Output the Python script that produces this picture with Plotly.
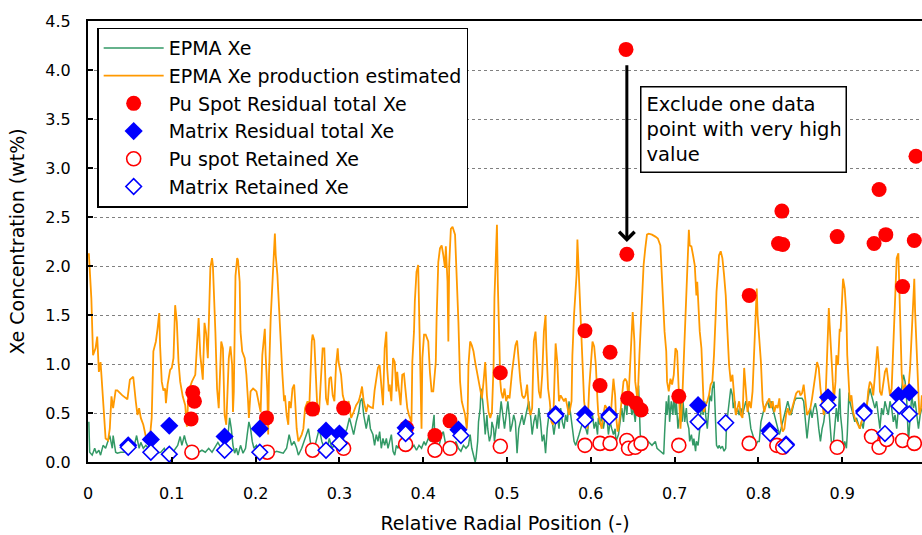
import plotly.graph_objects as go

# EPMA line scan: Xe measured (green) and Xe production estimate (orange)
prod_x = [0.001, 0.004, 0.006, 0.009, 0.011, 0.013, 0.015, 0.017, 0.019, 0.021, 0.024, 0.026, 0.028, 0.030,
          0.033, 0.035, 0.041, 0.047, 0.050, 0.054, 0.057, 0.059, 0.061, 0.063, 0.066, 0.069, 0.073, 0.076,
          0.078, 0.081, 0.083, 0.085, 0.086, 0.088, 0.090, 0.092, 0.093, 0.095, 0.098, 0.100, 0.102, 0.104,
          0.106, 0.108, 0.110, 0.113, 0.116, 0.118, 0.120, 0.124, 0.128, 0.130, 0.132, 0.134, 0.137, 0.139,
          0.141, 0.143, 0.146, 0.148, 0.149, 0.152, 0.154, 0.156, 0.159, 0.161, 0.163, 0.165, 0.168, 0.170,
          0.172, 0.173, 0.174, 0.176, 0.178, 0.179, 0.181, 0.182, 0.184, 0.187, 0.189, 0.191, 0.192, 0.194,
          0.197, 0.201, 0.204, 0.206, 0.208, 0.210, 0.211, 0.212, 0.214, 0.215, 0.216, 0.218, 0.220, 0.222,
          0.223, 0.224, 0.226, 0.228, 0.230, 0.232, 0.234, 0.235, 0.237, 0.239, 0.240, 0.242, 0.244, 0.246,
          0.247, 0.249, 0.251, 0.253, 0.255, 0.257, 0.259, 0.262, 0.264, 0.267, 0.268, 0.270, 0.272, 0.274,
          0.276, 0.278, 0.280, 0.282, 0.284, 0.286, 0.288, 0.290, 0.292, 0.294, 0.296, 0.298, 0.299, 0.302,
          0.304, 0.306, 0.308, 0.311, 0.314, 0.317, 0.320, 0.323, 0.325, 0.327, 0.329, 0.332, 0.334, 0.337,
          0.340, 0.342, 0.344, 0.346, 0.348, 0.350, 0.352, 0.354, 0.356, 0.357, 0.359, 0.360, 0.362, 0.364,
          0.366, 0.368, 0.369, 0.370, 0.372, 0.373, 0.375, 0.377, 0.379, 0.381, 0.383, 0.386, 0.387, 0.389,
          0.390, 0.392, 0.394, 0.395, 0.397, 0.398, 0.399, 0.401, 0.403, 0.406, 0.408, 0.410, 0.412, 0.415,
          0.416, 0.418, 0.420, 0.422, 0.424, 0.426, 0.427, 0.429, 0.430, 0.431, 0.433, 0.435, 0.438, 0.439,
          0.441, 0.442, 0.444, 0.446, 0.448, 0.450, 0.452, 0.453, 0.454, 0.456, 0.458, 0.460, 0.462, 0.464,
          0.466, 0.468, 0.470, 0.472, 0.474, 0.476, 0.478, 0.480, 0.482, 0.484, 0.485, 0.487, 0.488, 0.489,
          0.491, 0.492, 0.493, 0.495, 0.497, 0.499, 0.501, 0.503, 0.506, 0.508, 0.510, 0.512, 0.514, 0.516,
          0.518, 0.520, 0.522, 0.524, 0.526, 0.528, 0.530, 0.532, 0.534, 0.536, 0.538, 0.540, 0.542, 0.544,
          0.546, 0.547, 0.549, 0.551, 0.553, 0.555, 0.557, 0.558, 0.560, 0.562, 0.564, 0.566, 0.568, 0.570,
          0.572, 0.574, 0.577, 0.578, 0.580, 0.582, 0.583, 0.584, 0.586, 0.588, 0.590, 0.592, 0.594, 0.596,
          0.598, 0.600, 0.602, 0.604, 0.606, 0.608, 0.609, 0.611, 0.613, 0.615, 0.617, 0.619, 0.621, 0.623,
          0.625, 0.627, 0.629, 0.630, 0.632, 0.633, 0.635, 0.637, 0.639, 0.641, 0.643, 0.645, 0.647, 0.649,
          0.650, 0.652, 0.653, 0.655, 0.656, 0.658, 0.660, 0.661, 0.663, 0.665, 0.667, 0.669, 0.673, 0.677,
          0.680, 0.683, 0.684, 0.686, 0.688, 0.690, 0.691, 0.693, 0.695, 0.697, 0.699, 0.701, 0.703, 0.705,
          0.707, 0.709, 0.711, 0.713, 0.715, 0.717, 0.718, 0.720, 0.722, 0.724, 0.726, 0.727, 0.729, 0.730,
          0.732, 0.734, 0.735, 0.737, 0.739, 0.741, 0.743, 0.745, 0.747, 0.749, 0.750, 0.752, 0.753, 0.755,
          0.757, 0.759, 0.761, 0.763, 0.765, 0.767, 0.769, 0.771, 0.773, 0.775, 0.777, 0.779, 0.781, 0.783,
          0.785, 0.787, 0.789, 0.791, 0.793, 0.795, 0.796, 0.798, 0.799, 0.801, 0.803, 0.805, 0.807, 0.809,
          0.811, 0.813, 0.815, 0.817, 0.819, 0.821, 0.823, 0.825, 0.827, 0.829, 0.831, 0.833, 0.835, 0.837,
          0.839, 0.841, 0.843, 0.845, 0.847, 0.849, 0.850, 0.852, 0.854, 0.856, 0.858, 0.860, 0.862, 0.864,
          0.866, 0.868, 0.870, 0.872, 0.874, 0.876, 0.878, 0.880, 0.882, 0.883, 0.884, 0.885, 0.887, 0.889,
          0.890, 0.892, 0.893, 0.895, 0.897, 0.898, 0.900, 0.901, 0.903, 0.905, 0.906, 0.908, 0.909, 0.911,
          0.913, 0.915, 0.917, 0.919, 0.921, 0.923, 0.925, 0.927, 0.929, 0.931, 0.933, 0.935, 0.937, 0.939,
          0.941, 0.942, 0.944, 0.945, 0.947, 0.949, 0.951, 0.953, 0.955, 0.957, 0.959, 0.961, 0.963, 0.965,
          0.967, 0.968, 0.970, 0.971, 0.973, 0.975, 0.977, 0.979, 0.981, 0.983, 0.985, 0.986, 0.987, 0.989,
          0.991, 0.992, 0.994, 0.995]
prod_y = [2.13, 1.67, 1.09, 1.16, 1.28, 0.92, 1.02, 0.75, 0.48, 0.24, 0.22, 0.34, 0.67, 0.55,
          0.73, 0.73, 0.68, 0.64, 0.84, 0.87, 0.62, 0.48, 0.55, 0.45, 0.38, 0.26, 0.17, 0.45,
          1.13, 1.23, 1.36, 1.52, 1.19, 0.82, 0.73, 0.75, 0.60, 0.79, 0.94, 0.96, 1.06, 1.60,
          1.43, 1.02, 0.82, 0.67, 0.58, 0.36, 0.72, 0.82, 0.89, 1.23, 1.47, 1.09, 0.84, 1.42,
          1.31, 1.06, 1.98, 2.08, 2.01, 1.33, 0.75, 0.55, 1.23, 1.16, 0.48, 0.38, 1.06, 1.18,
          0.99, 0.51, 0.72, 1.90, 2.08, 2.06, 1.84, 1.33, 1.13, 1.06, 0.89, 0.62, 0.45, 0.72,
          0.75, 0.72, 0.58, 0.51, 1.09, 1.26, 1.36, 1.09, 0.72, 0.28, 0.89, 1.47, 1.84, 2.11,
          2.33, 2.11, 1.91, 1.57, 1.16, 0.89, 0.62, 0.68, 0.48, 0.38, 0.62, 0.55, 0.75, 0.79,
          0.65, 0.34, 0.21, 0.24, 0.28, 0.34, 0.55, 0.62, 0.55, 1.23, 1.30, 1.24, 0.92, 0.48,
          0.55, 0.92, 1.16, 1.16, 0.65, 0.58, 0.85, 0.87, 0.68, 0.62, 0.99, 1.16, 1.02, 0.89,
          0.68, 0.62, 0.58, 0.62, 0.45, 0.51, 0.58, 0.62, 0.68, 0.77, 0.62, 0.51, 0.58, 0.56,
          0.55, 0.73, 0.85, 0.96, 0.99, 0.75, 0.58, 1.16, 1.33, 0.96, 0.72, 0.79, 0.62, 1.06,
          1.02, 0.72, 0.92, 0.82, 0.62, 0.58, 0.89, 0.90, 0.72, 0.55, 0.48, 0.41, 1.02, 1.33,
          1.64, 1.94, 2.01, 1.50, 0.72, 0.34, 1.06, 1.30, 1.30, 1.23, 0.92, 0.72, 0.72, 1.02,
          1.47, 2.04, 2.18, 2.21, 2.11, 1.98, 2.20, 1.84, 1.23, 2.01, 2.38, 2.40, 2.32, 2.11,
          1.74, 1.43, 0.82, 0.62, 0.55, 0.48, 0.34, 0.48, 0.99, 1.23, 1.19, 1.13, 1.02, 0.92,
          0.85, 0.75, 0.65, 0.82, 1.02, 0.68, 0.51, 0.45, 0.51, 0.99, 1.67, 2.18, 2.42, 1.84,
          1.09, 0.82, 0.72, 0.65, 0.75, 0.62, 0.68, 0.65, 0.92, 1.09, 1.19, 1.24, 0.99, 0.82,
          0.68, 0.65, 0.68, 0.79, 0.55, 0.48, 0.55, 1.23, 1.33, 1.06, 0.72, 0.65, 0.89, 1.33,
          1.50, 1.16, 0.75, 0.62, 0.41, 0.38, 0.82, 1.21, 1.02, 0.62, 0.68, 0.65, 0.62, 0.65,
          0.55, 0.48, 0.62, 1.09, 1.50, 1.77, 1.91, 2.27, 1.84, 1.33, 0.92, 0.62, 0.48, 0.34,
          0.75, 1.02, 1.23, 1.18, 0.99, 0.62, 0.48, 0.41, 0.34, 0.48, 0.58, 0.55, 0.48, 0.38,
          0.62, 0.85, 0.68, 0.48, 0.31, 0.34, 0.48, 0.62, 0.82, 0.85, 0.82, 0.65, 1.02, 1.50,
          1.53, 1.23, 0.82, 0.68, 0.65, 1.09, 1.50, 1.67, 2.01, 2.18, 2.32, 2.33, 2.32, 2.30,
          2.28, 2.21, 2.01, 1.67, 1.33, 1.13, 0.82, 0.72, 0.85, 0.79, 0.89, 1.16, 1.13, 0.72,
          0.34, 0.62, 1.09, 1.53, 2.01, 2.37, 2.21, 2.20, 2.11, 2.01, 1.70, 1.84, 1.50, 1.33,
          1.16, 0.65, 0.51, 0.58, 0.62, 0.68, 0.79, 0.82, 1.09, 1.50, 1.74, 1.98, 2.11, 2.15,
          2.08, 1.91, 1.70, 1.33, 0.99, 0.82, 0.89, 0.68, 0.48, 0.55, 0.62, 0.48, 0.45, 0.96,
          0.75, 0.51, 0.62, 0.55, 0.72, 1.16, 1.50, 1.77, 1.50, 1.30, 1.02, 0.62, 0.51, 0.58,
          0.62, 0.65, 0.55, 0.62, 0.51, 0.58, 0.55, 0.65, 0.41, 0.31, 0.34, 0.48, 0.55, 0.48,
          0.51, 0.58, 0.65, 0.70, 0.72, 0.72, 0.68, 0.70, 0.79, 0.62, 0.48, 0.51, 0.55, 0.65,
          0.75, 0.89, 1.02, 0.96, 0.75, 0.58, 0.48, 0.62, 1.16, 1.50, 1.57, 1.40, 1.09, 0.75,
          0.62, 0.82, 1.09, 0.99, 1.36, 1.33, 1.70, 1.87, 1.77, 1.50, 1.09, 0.79, 0.62, 0.68,
          0.51, 0.45, 0.41, 0.38, 0.34, 0.41, 0.45, 0.48, 0.51, 0.72, 0.82, 0.79, 0.68, 0.89,
          1.02, 1.18, 0.96, 0.72, 0.68, 0.82, 0.92, 0.96, 0.79, 0.68, 0.75, 1.16, 1.67, 2.08,
          2.13, 1.84, 1.33, 0.89, 0.72, 0.79, 0.75, 0.75, 0.96, 1.36, 1.70, 1.87, 1.53, 1.09,
          0.62, 0.48, 0.55, 0.68]

epma_x = [0.001, 0.002, 0.005, 0.008, 0.010, 0.013, 0.015, 0.018, 0.021, 0.023, 0.026, 0.029, 0.030, 0.033,
          0.035, 0.039, 0.043, 0.047, 0.051, 0.055, 0.058, 0.061, 0.063, 0.066, 0.069, 0.072, 0.075, 0.079,
          0.083, 0.087, 0.091, 0.095, 0.099, 0.103, 0.107, 0.110, 0.112, 0.115, 0.117, 0.120, 0.124, 0.128,
          0.132, 0.136, 0.140, 0.144, 0.148, 0.152, 0.155, 0.159, 0.163, 0.167, 0.169, 0.171, 0.173, 0.175,
          0.177, 0.179, 0.182, 0.185, 0.188, 0.190, 0.192, 0.194, 0.196, 0.198, 0.201, 0.204, 0.207, 0.211,
          0.214, 0.217, 0.221, 0.225, 0.229, 0.233, 0.237, 0.240, 0.243, 0.246, 0.249, 0.251, 0.255, 0.258,
          0.261, 0.263, 0.266, 0.268, 0.271, 0.274, 0.276, 0.279, 0.282, 0.286, 0.288, 0.291, 0.294, 0.298,
          0.300, 0.303, 0.306, 0.309, 0.312, 0.314, 0.317, 0.320, 0.323, 0.325, 0.327, 0.329, 0.332, 0.335,
          0.337, 0.340, 0.342, 0.344, 0.346, 0.348, 0.350, 0.352, 0.354, 0.356, 0.358, 0.360, 0.362, 0.364,
          0.366, 0.368, 0.370, 0.372, 0.374, 0.376, 0.378, 0.380, 0.383, 0.386, 0.389, 0.392, 0.395, 0.398,
          0.401, 0.403, 0.406, 0.409, 0.411, 0.413, 0.414, 0.416, 0.419, 0.422, 0.424, 0.427, 0.430, 0.433,
          0.436, 0.439, 0.442, 0.445, 0.448, 0.451, 0.454, 0.456, 0.458, 0.460, 0.462, 0.463, 0.465, 0.466,
          0.468, 0.469, 0.471, 0.473, 0.474, 0.476, 0.477, 0.479, 0.481, 0.482, 0.484, 0.485, 0.487, 0.489,
          0.490, 0.492, 0.493, 0.495, 0.497, 0.498, 0.500, 0.501, 0.503, 0.504, 0.506, 0.508, 0.510, 0.512,
          0.514, 0.516, 0.518, 0.520, 0.522, 0.524, 0.526, 0.528, 0.530, 0.532, 0.534, 0.536, 0.538, 0.540,
          0.542, 0.544, 0.546, 0.548, 0.550, 0.552, 0.554, 0.556, 0.558, 0.560, 0.562, 0.564, 0.566, 0.568,
          0.570, 0.572, 0.574, 0.576, 0.578, 0.580, 0.582, 0.584, 0.586, 0.588, 0.590, 0.592, 0.594, 0.596,
          0.598, 0.600, 0.602, 0.604, 0.606, 0.608, 0.609, 0.611, 0.613, 0.615, 0.617, 0.619, 0.621, 0.623,
          0.625, 0.627, 0.629, 0.630, 0.633, 0.635, 0.637, 0.639, 0.641, 0.643, 0.645, 0.647, 0.649, 0.651,
          0.653, 0.655, 0.657, 0.659, 0.661, 0.665, 0.669, 0.673, 0.677, 0.679, 0.683, 0.687, 0.688, 0.690,
          0.691, 0.693, 0.694, 0.696, 0.698, 0.699, 0.701, 0.702, 0.704, 0.706, 0.707, 0.709, 0.710, 0.712,
          0.714, 0.715, 0.717, 0.718, 0.720, 0.722, 0.723, 0.725, 0.726, 0.728, 0.730, 0.731, 0.733, 0.734,
          0.736, 0.737, 0.739, 0.741, 0.742, 0.744, 0.745, 0.747, 0.749, 0.750, 0.752, 0.753, 0.755, 0.757,
          0.759, 0.761, 0.762, 0.764, 0.765, 0.767, 0.769, 0.770, 0.772, 0.773, 0.775, 0.777, 0.779, 0.781,
          0.783, 0.785, 0.787, 0.789, 0.791, 0.793, 0.795, 0.797, 0.799, 0.801, 0.803, 0.805, 0.807, 0.809,
          0.811, 0.813, 0.815, 0.817, 0.819, 0.821, 0.823, 0.825, 0.827, 0.829, 0.831, 0.833, 0.835, 0.837,
          0.839, 0.841, 0.843, 0.845, 0.847, 0.849, 0.852, 0.854, 0.856, 0.858, 0.860, 0.862, 0.864, 0.866,
          0.868, 0.870, 0.872, 0.874, 0.876, 0.878, 0.880, 0.882, 0.884, 0.885, 0.887, 0.889, 0.891, 0.893,
          0.895, 0.897, 0.898, 0.900, 0.901, 0.903, 0.905, 0.906, 0.908, 0.909, 0.911, 0.913, 0.915, 0.917,
          0.919, 0.921, 0.923, 0.925, 0.927, 0.929, 0.931, 0.933, 0.935, 0.937, 0.939, 0.941, 0.943, 0.945,
          0.947, 0.949, 0.951, 0.953, 0.955, 0.957, 0.959, 0.961, 0.963, 0.965, 0.967, 0.969, 0.971, 0.973,
          0.975, 0.977, 0.979, 0.981, 0.983, 0.985, 0.987, 0.989, 0.991, 0.993, 0.995]
epma_y = [0.41, 0.10, 0.07, 0.14, 0.09, 0.12, 0.07, 0.17, 0.14, 0.20, 0.27, 0.14, 0.27, 0.10,
          0.09, 0.10, 0.10, 0.14, 0.10, 0.16, 0.27, 0.14, 0.20, 0.14, 0.17, 0.14, 0.10, 0.12,
          0.09, 0.10, 0.14, 0.07, 0.10, 0.12, 0.17, 0.26, 0.17, 0.27, 0.20, 0.14, 0.10, 0.09,
          0.10, 0.12, 0.10, 0.14, 0.10, 0.16, 0.20, 0.14, 0.19, 0.27, 0.45, 0.34, 0.17, 0.09,
          0.14, 0.07, 0.17, 0.09, 0.14, 0.28, 0.41, 0.34, 0.21, 0.14, 0.17, 0.11, 0.12, 0.14,
          0.11, 0.12, 0.09, 0.11, 0.10, 0.09, 0.14, 0.28, 0.17, 0.21, 0.14, 0.07, 0.14, 0.21,
          0.28, 0.34, 0.17, 0.11, 0.17, 0.28, 0.34, 0.21, 0.14, 0.17, 0.24, 0.14, 0.17, 0.21,
          0.14, 0.17, 0.28, 0.34, 0.45, 0.38, 0.28, 0.41, 0.51, 0.62, 0.65, 0.48, 0.34, 0.48,
          0.34, 0.28, 0.17, 0.28, 0.21, 0.31, 0.14, 0.24, 0.17, 0.24, 0.14, 0.21, 0.28, 0.11,
          0.07, 0.17, 0.14, 0.21, 0.14, 0.24, 0.14, 0.31, 0.28, 0.14, 0.17, 0.12, 0.17, 0.14,
          0.21, 0.17, 0.24, 0.21, 0.34, 0.48, 0.17, 0.14, 0.17, 0.28, 0.31, 0.17, 0.14, 0.21,
          0.14, 0.21, 0.14, 0.11, 0.17, 0.14, 0.17, 0.28, 0.14, 0.07, 0.00, 0.04, 0.21, 0.41,
          0.55, 0.75, 0.62, 0.41, 0.28, 0.48, 0.34, 0.21, 0.28, 0.41, 0.34, 0.21, 0.34, 0.48,
          0.34, 0.51, 0.62, 0.48, 0.34, 0.41, 0.55, 0.62, 0.45, 0.31, 0.38, 0.48, 0.41, 0.09,
          0.34, 0.41, 0.48, 0.38, 0.45, 0.55, 0.62, 0.48, 0.28, 0.41, 0.48, 0.34, 0.55, 0.41,
          0.21, 0.28, 0.09, 0.34, 0.48, 0.55, 0.41, 0.28, 0.41, 0.48, 0.34, 0.55, 0.41, 0.34,
          0.48, 0.41, 0.62, 0.48, 0.34, 0.21, 0.17, 0.24, 0.28, 0.34, 0.41, 0.45, 0.34, 0.28,
          0.48, 0.41, 0.48, 0.34, 0.41, 0.28, 0.45, 0.38, 0.48, 0.34, 0.45, 0.48, 0.28, 0.41,
          0.34, 0.28, 0.34, 0.21, 0.28, 0.41, 0.55, 0.41, 0.62, 0.48, 0.75, 0.62, 0.48, 0.55,
          0.41, 0.62, 0.78, 0.28, 0.21, 0.24, 0.21, 0.17, 0.21, 0.14, 0.11, 0.08, 0.28, 0.62,
          0.48, 0.68, 0.41, 0.62, 0.48, 0.68, 0.48, 0.62, 0.34, 0.48, 0.62, 0.41, 0.62, 0.41,
          0.55, 0.41, 0.34, 0.21, 0.28, 0.17, 0.24, 0.11, 0.21, 0.17, 0.34, 0.48, 0.62, 0.48,
          0.62, 0.48, 0.34, 0.55, 0.68, 0.62, 0.75, 0.82, 0.41, 0.17, 0.14, 0.17, 0.14, 0.16,
          0.11, 0.14, 0.38, 0.51, 0.62, 0.75, 0.68, 0.55, 0.62, 0.48, 0.55, 0.48, 0.55, 0.48,
          0.55, 0.62, 0.55, 0.48, 0.34, 0.28, 0.21, 0.17, 0.21, 0.21, 0.41, 0.48, 0.55, 0.58,
          0.62, 0.55, 0.62, 0.55, 0.48, 0.41, 0.34, 0.28, 0.34, 0.41, 0.48, 0.55, 0.62, 0.55,
          0.48, 0.55, 0.62, 0.65, 0.65, 0.65, 0.65, 0.62, 0.41, 0.24, 0.41, 0.55, 0.45, 0.55,
          0.60, 0.51, 0.34, 0.21, 0.34, 0.41, 0.55, 0.62, 0.55, 0.41, 0.21, 0.14, 0.34, 0.55,
          0.41, 0.75, 0.48, 0.31, 0.14, 0.21, 0.14, 0.28, 0.71, 0.62, 0.55, 0.48, 0.41, 0.45,
          0.38, 0.34, 0.41, 0.34, 0.48, 0.58, 0.68, 0.75, 0.68, 0.62, 0.55, 0.62, 0.48, 0.34,
          0.55, 0.48, 0.62, 0.55, 0.48, 0.62, 0.55, 0.41, 0.48, 0.34, 0.55, 0.62, 0.75, 0.89,
          0.82, 0.62, 0.21, 0.48, 0.68, 0.55, 0.62, 0.48, 0.34, 0.48, 0.55]

# Residual total Xe and retained Xe measured at Pu spots and in the matrix
pu_res_x = [0.123, 0.125, 0.127, 0.213, 0.268, 0.305, 0.380, 0.414, 0.432, 0.492, 0.593, 0.611, 0.623,
            0.642, 0.643, 0.644, 0.654, 0.660, 0.705, 0.789, 0.824, 0.829, 0.828, 0.894, 0.938, 0.944,
            0.952, 0.972, 0.986, 0.988]
pu_res_y = [0.44, 0.71, 0.62, 0.45, 0.54, 0.55, 0.35, 0.27, 0.42, 0.91, 1.34, 0.78, 1.12,
            4.21, 2.12, 0.65, 0.60, 0.53, 0.67, 1.70, 2.23, 2.22, 2.56, 2.30, 2.23, 2.78,
            2.32, 1.79, 2.26, 3.12]

mat_res_x = [0.048, 0.075, 0.097, 0.163, 0.205, 0.284, 0.300, 0.379, 0.442, 0.558, 0.593, 0.622,
             0.728, 0.813, 0.833, 0.883, 0.926, 0.967, 0.980]
mat_res_y = [0.17, 0.23, 0.37, 0.26, 0.34, 0.32, 0.29, 0.35, 0.33, 0.49, 0.49, 0.48,
             0.58, 0.32, 0.18, 0.66, 0.52, 0.68, 0.71]

pu_ret_x = [0.124, 0.214, 0.268, 0.305, 0.379, 0.414, 0.432, 0.492, 0.593, 0.611, 0.623, 0.643,
            0.645, 0.653, 0.660, 0.705, 0.789, 0.822, 0.829, 0.894, 0.935, 0.944, 0.953, 0.972, 0.986]
pu_ret_y = [0.10, 0.10, 0.12, 0.14, 0.18, 0.12, 0.14, 0.16, 0.17, 0.19, 0.19, 0.22,
            0.14, 0.15, 0.19, 0.17, 0.19, 0.17, 0.15, 0.15, 0.26, 0.15, 0.23, 0.22, 0.19]

mat_ret_x = [0.048, 0.075, 0.097, 0.163, 0.205, 0.284, 0.300, 0.379, 0.445, 0.558, 0.593, 0.622,
             0.728, 0.761, 0.814, 0.833, 0.883, 0.926, 0.951, 0.968, 0.980]
mat_ret_y = [0.15, 0.10, 0.08, 0.12, 0.10, 0.12, 0.19, 0.29, 0.27, 0.47, 0.43, 0.46,
             0.41, 0.40, 0.29, 0.17, 0.58, 0.50, 0.29, 0.57, 0.49]

# the one Pu spot value left out of the evaluation
excluded_x = 0.642
excluded_y = 4.21

FONT = "DejaVu Sans"
RED = "#FF0000"
BLUE = "#0000FF"

fig = go.Figure()

fig.add_trace(go.Scatter(x=epma_x, y=epma_y, mode="lines", name="EPMA Xe",
                         line=dict(color="#339966", width=1.5), legendgroup="a"))
fig.add_trace(go.Scatter(x=prod_x, y=prod_y, mode="lines", name="EPMA Xe production estimated",
                         line=dict(color="#FF9900", width=1.8), legendgroup="b"))
fig.add_trace(go.Scatter(x=pu_res_x, y=pu_res_y, mode="markers", name="Pu Spot Residual total Xe",
                         marker=dict(symbol="circle", size=15, color=RED, line=dict(width=0)),
                         legendgroup="c"))
fig.add_trace(go.Scatter(x=mat_res_x, y=mat_res_y, mode="markers", name="Matrix Residual total Xe",
                         marker=dict(symbol="diamond", size=14, color=BLUE, line=dict(width=0)),
                         legendgroup="d"))
fig.add_trace(go.Scatter(x=pu_ret_x, y=pu_ret_y, mode="markers", name="Pu spot Retained Xe",
                         marker=dict(symbol="circle", size=14, color="white",
                                     line=dict(color=RED, width=1.6)),
                         legendgroup="e"))
fig.add_trace(go.Scatter(x=mat_ret_x, y=mat_ret_y, mode="markers", name="Matrix Retained Xe",
                         marker=dict(symbol="diamond", size=12, color="white",
                                     line=dict(color=BLUE, width=1.6)),
                         legendgroup="f"))

# arrow pointing at the remaining Pu spot value below the excluded one
fig.add_annotation(x=excluded_x + 0.001, y=2.245, ax=excluded_x + 0.001, ay=4.065,
                   xref="x", yref="y", axref="x", ayref="y", text="",
                   showarrow=True, arrowhead=4, arrowsize=1, arrowwidth=3, arrowcolor="black",
                   standoff=0, startstandoff=0)

fig.add_annotation(x=0.6587, y=3.837, xref="x", yref="y", xanchor="left", yanchor="top",
                   text="Exclude one data<br>point with very high<br>value", showarrow=False,
                   align="left", width=194, borderpad=5, bordercolor="black", borderwidth=1.5,
                   bgcolor="white", font=dict(family=FONT, size=19.5, color="black"))

fig.update_layout(
    width=922, height=535,
    margin=dict(l=88, r=0, t=21, b=73),
    paper_bgcolor="white", plot_bgcolor="white",
    font=dict(family=FONT, color="black"),
    showlegend=True,
    legend=dict(x=0.011, y=0.985, xanchor="left", yanchor="top",
                bgcolor="white", bordercolor="black", borderwidth=1.5,
                font=dict(family=FONT, size=19, color="black"),
                tracegroupgap=0, itemwidth=60),
    xaxis=dict(range=[0, 0.9952], tickmode="array",
               tickvals=[0, 0.1, 0.2, 0.3, 0.4, 0.5, 0.6, 0.7, 0.8, 0.9],
               ticktext=["0", "0.1", "0.2", "0.3", "0.4", "0.5", "0.6", "0.7", "0.8", "0.9"],
               ticks="inside", ticklen=5, tickwidth=1.5, tickcolor="black",
               showline=True, linecolor="black", linewidth=2, mirror=True,
               showgrid=False, zeroline=False,
               tickfont=dict(family=FONT, size=16), ticklabelstandoff=16,
               title=dict(text="Relative Radial Position (-)", font=dict(family=FONT, size=19),
                          standoff=14)),
    yaxis=dict(range=[0, 4.5], dtick=0.5, tickformat=".1f",
               ticks="inside", ticklen=5, tickwidth=1.5, tickcolor="black",
               showline=True, linecolor="black", linewidth=2,
               showgrid=True, gridcolor="#808080", gridwidth=1, griddash="dot",
               zeroline=False,
               tickfont=dict(family=FONT, size=16), ticklabelstandoff=12,
               title=dict(text="Xe Concentration (wt%)", font=dict(family=FONT, size=19),
                          standoff=16)),
)

fig.write_html("out.html")
